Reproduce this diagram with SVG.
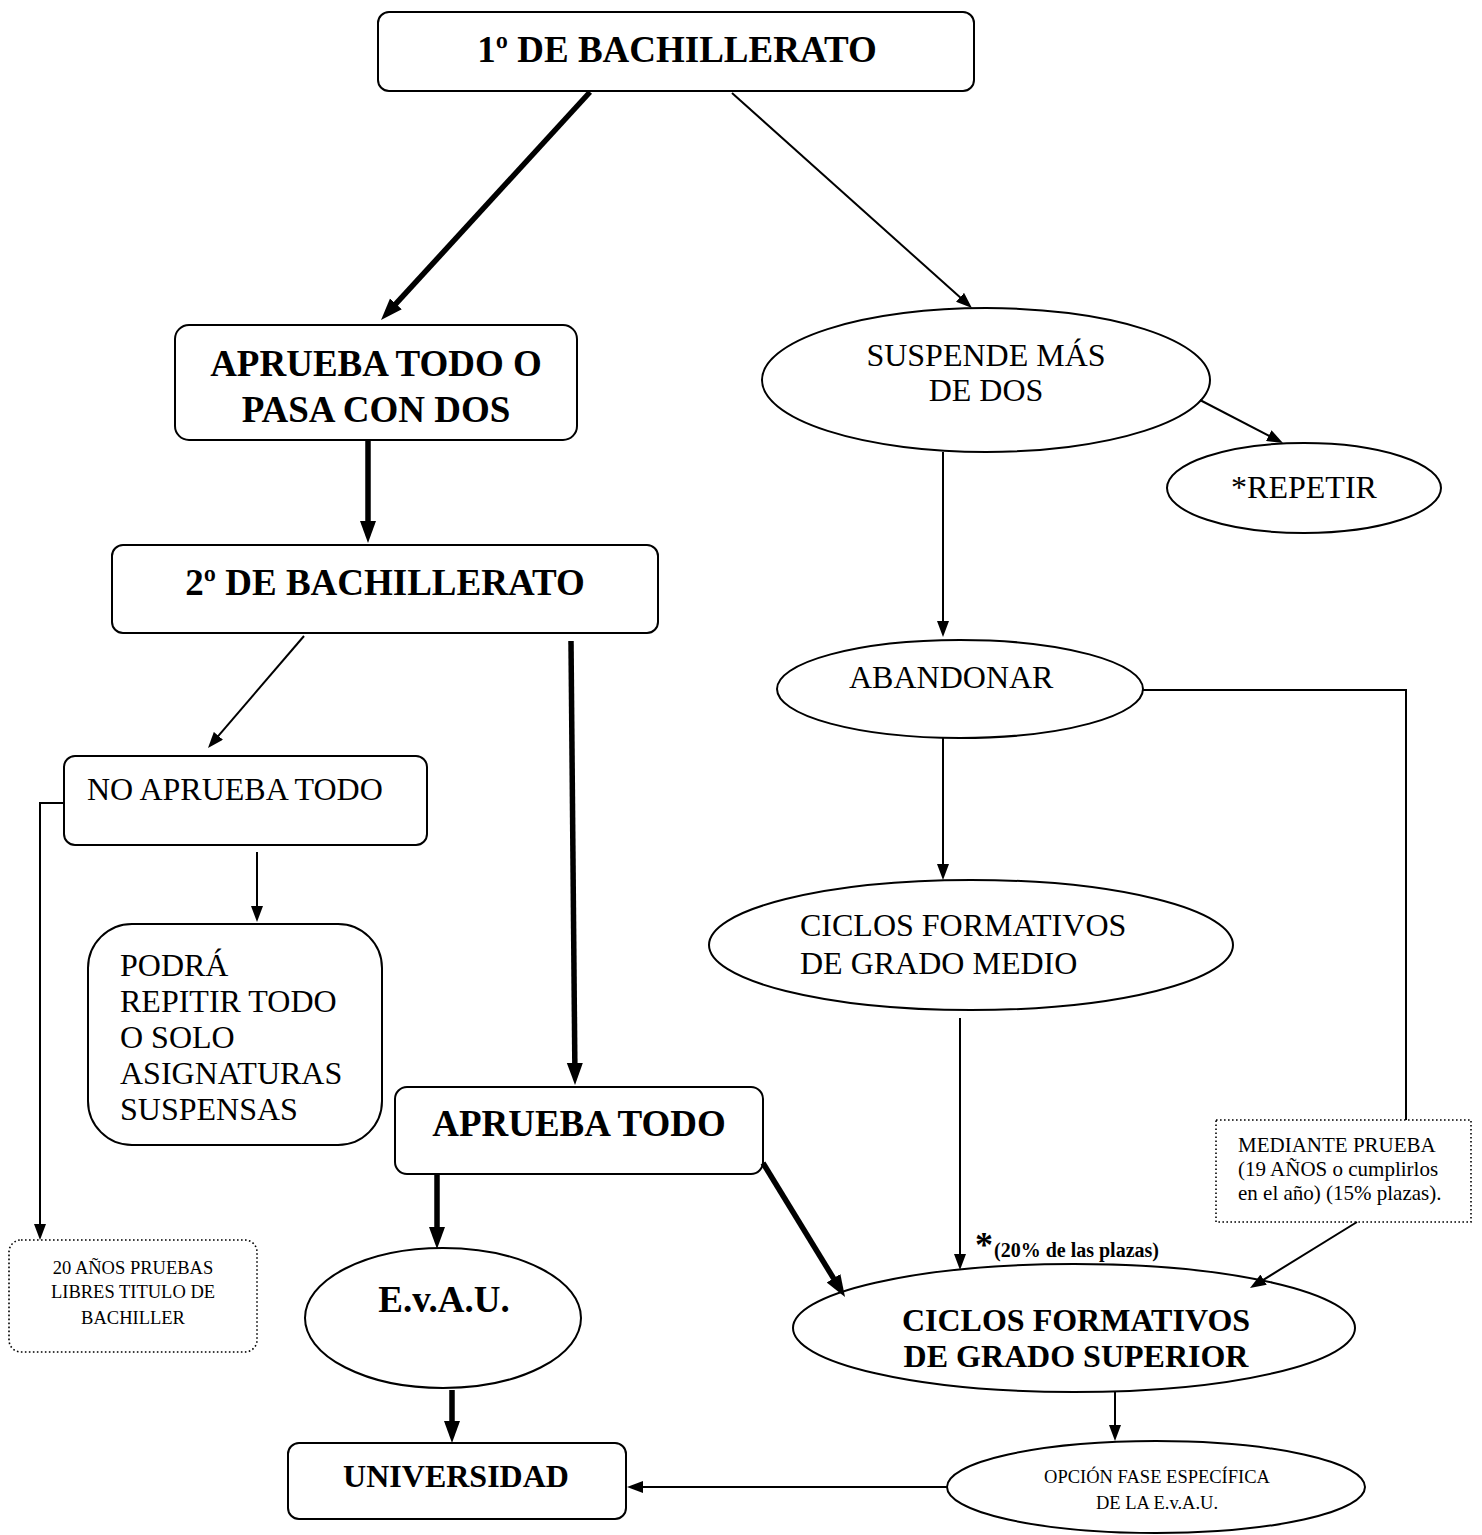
<svg xmlns="http://www.w3.org/2000/svg" width="1482" height="1535" viewBox="0 0 1482 1535">
<style>
.box{fill:#fff;stroke:#000;stroke-width:2}
.ell{fill:#fff;stroke:#000;stroke-width:2}
.dot{fill:#fff;stroke:#000;stroke-width:1.6;stroke-dasharray:1.6 2.4}
.t{font-family:"Liberation Serif","Times New Roman",serif;fill:#000}
.b37{font-size:37px;font-weight:bold}
.b32{font-size:32px;font-weight:bold}
.r32{font-size:32px}
.r21{font-size:21px}
.r19{font-size:18.5px}
.c{text-anchor:middle}
.thick{stroke:#000;stroke-width:5.5;fill:none}
.thin{stroke:#000;stroke-width:2;fill:none}
</style>
<defs>
<marker id="ak" markerUnits="userSpaceOnUse" markerWidth="22" markerHeight="18" refX="8" refY="8" orient="auto" viewBox="0 0 22 16">
<path d="M0,0 L22,8 L0,16 z" fill="#000"/>
</marker>
<marker id="an" markerUnits="userSpaceOnUse" markerWidth="16" markerHeight="12" refX="6" refY="6" orient="auto" viewBox="0 0 16 12">
<path d="M0,0 L16,6 L0,12 z" fill="#000"/>
</marker>
</defs>
<rect width="1482" height="1535" fill="#fff"/>

<g id="n1">
<rect class="box" x="378" y="12" width="596" height="79" rx="11"/>
<text class="t b37 c" x="677" y="62">1º DE BACHILLERATO</text>
</g>
<g id="n2">
<rect class="box" x="175" y="325" width="402" height="115" rx="14"/>
<text class="t b37 c" x="376" y="376">APRUEBA TODO O</text>
<text class="t b37 c" x="376" y="422">PASA CON DOS</text>
</g>
<g id="n3">
<ellipse class="ell" cx="986" cy="380" rx="224" ry="72"/>
<text class="t r32 c" x="986" y="366">SUSPENDE MÁS</text>
<text class="t r32 c" x="986" y="401">DE DOS</text>
</g>
<g id="n4">
<ellipse class="ell" cx="1304" cy="488" rx="137" ry="45"/>
<text class="t r32 c" x="1304" y="498">*REPETIR</text>
</g>
<g id="n5">
<rect class="box" x="112" y="545" width="546" height="88" rx="11"/>
<text class="t b37 c" x="385" y="595">2º DE BACHILLERATO</text>
</g>
<g id="n6">
<ellipse class="ell" cx="960" cy="689" rx="183" ry="49"/>
<text class="t r32" x="849" y="688">ABANDONAR</text>
</g>
<g id="n7">
<rect class="box" x="64" y="756" width="363" height="89" rx="11"/>
<text class="t r32" x="87" y="800">NO APRUEBA TODO</text>
</g>
<g id="n8">
<ellipse class="ell" cx="971" cy="945" rx="262" ry="65"/>
<text class="t r32" x="800" y="936">CICLOS FORMATIVOS</text>
<text class="t r32" x="800" y="974">DE GRADO MEDIO</text>
</g>
<g id="n9">
<rect class="box" x="88" y="924" width="294" height="221" rx="44"/>
<text class="t r32" x="120" y="976">PODRÁ</text>
<text class="t r32" x="120" y="1012">REPITIR TODO</text>
<text class="t r32" x="120" y="1048">O SOLO</text>
<text class="t r32" x="120" y="1084">ASIGNATURAS</text>
<text class="t r32" x="120" y="1120">SUSPENSAS</text>
</g>
<g id="n10">
<rect class="box" x="395" y="1087" width="368" height="87" rx="12"/>
<text class="t b37 c" x="579" y="1136">APRUEBA TODO</text>
</g>
<g id="n11">
<rect class="dot" x="1216" y="1120" width="255" height="102"/>
<text class="t r21" x="1238" y="1152">MEDIANTE PRUEBA</text>
<text class="t r21" x="1238" y="1176">(19 AÑOS o cumplirlos</text>
<text class="t r21" x="1238" y="1200">en el año) (15% plazas).</text>
</g>
<g id="n12">
<rect class="dot" x="9" y="1240" width="248" height="112" rx="12"/>
<text class="t r19 c" x="133" y="1274">20 AÑOS PRUEBAS</text>
<text class="t r19 c" x="133" y="1298">LIBRES TITULO DE</text>
<text class="t r19 c" x="133" y="1324">BACHILLER</text>
</g>
<g id="n13">
<ellipse class="ell" cx="443" cy="1318" rx="138" ry="70"/>
<text class="t b37 c" x="444" y="1312">E.v.A.U.</text>
</g>
<g id="n14">
<ellipse class="ell" cx="1074" cy="1328" rx="281" ry="64"/>
<text class="t b32 c" x="1076" y="1331">CICLOS FORMATIVOS</text>
<text class="t b32 c" x="1076" y="1367">DE GRADO SUPERIOR</text>
</g>
<g id="n15">
<rect class="box" x="288" y="1443" width="338" height="76" rx="11"/>
<text class="t b32 c" x="456" y="1487">UNIVERSIDAD</text>
</g>
<g id="n16">
<ellipse class="ell" cx="1156" cy="1487" rx="209" ry="46"/>
<text class="t r19 c" x="1157" y="1483">OPCIÓN FASE ESPECÍFICA</text>
<text class="t r19 c" x="1157" y="1509">DE LA E.v.A.U.</text>
</g>

<g id="connectors">
<line class="thick" x1="590" y1="92" x2="390.5" y2="309.7" marker-end="url(#ak)"/>
<line class="thick" x1="368" y1="441" x2="368" y2="529" marker-end="url(#ak)"/>
<line class="thick" x1="571" y1="641" x2="574.9" y2="1071" marker-end="url(#ak)"/>
<line class="thick" x1="437" y1="1175" x2="437" y2="1235" marker-end="url(#ak)"/>
<line class="thick" x1="763" y1="1163" x2="837.7" y2="1285.1" marker-end="url(#ak)"/>
<line class="thick" x1="452" y1="1390" x2="452" y2="1429" marker-end="url(#ak)"/>
<line class="thin" x1="732" y1="93" x2="964.5" y2="301.3" marker-end="url(#an)"/>
<line class="thin" x1="1200" y1="400" x2="1274.1" y2="438.4" marker-end="url(#an)"/>
<line class="thin" x1="943" y1="452" x2="943" y2="627" marker-end="url(#an)"/>
<line class="thin" x1="304" y1="636" x2="214.5" y2="740.4" marker-end="url(#an)"/>
<line class="thin" x1="943" y1="738" x2="943" y2="870" marker-end="url(#an)"/>
<path class="thin" d="M64,803 H40 V1230" marker-end="url(#an)"/>
<line class="thin" x1="257" y1="852" x2="257" y2="912" marker-end="url(#an)"/>
<line class="thin" x1="960" y1="1018" x2="960" y2="1260" marker-end="url(#an)"/>
<line class="thin" x1="1357" y1="1222" x2="1258.5" y2="1282.8" marker-end="url(#an)"/>
<line class="thin" x1="1115" y1="1392" x2="1115" y2="1431" marker-end="url(#an)"/>
<line class="thin" x1="947" y1="1487" x2="637" y2="1487" marker-end="url(#an)"/>
<path class="thin" d="M1143,690 H1406 V1120"/>
<text class="t" x="975" y="1257" style="font-size:36px;font-weight:bold">*</text>
<text class="t" x="994" y="1257" style="font-size:20px;font-weight:bold">(20% de las plazas)</text>
</g>
</svg>
